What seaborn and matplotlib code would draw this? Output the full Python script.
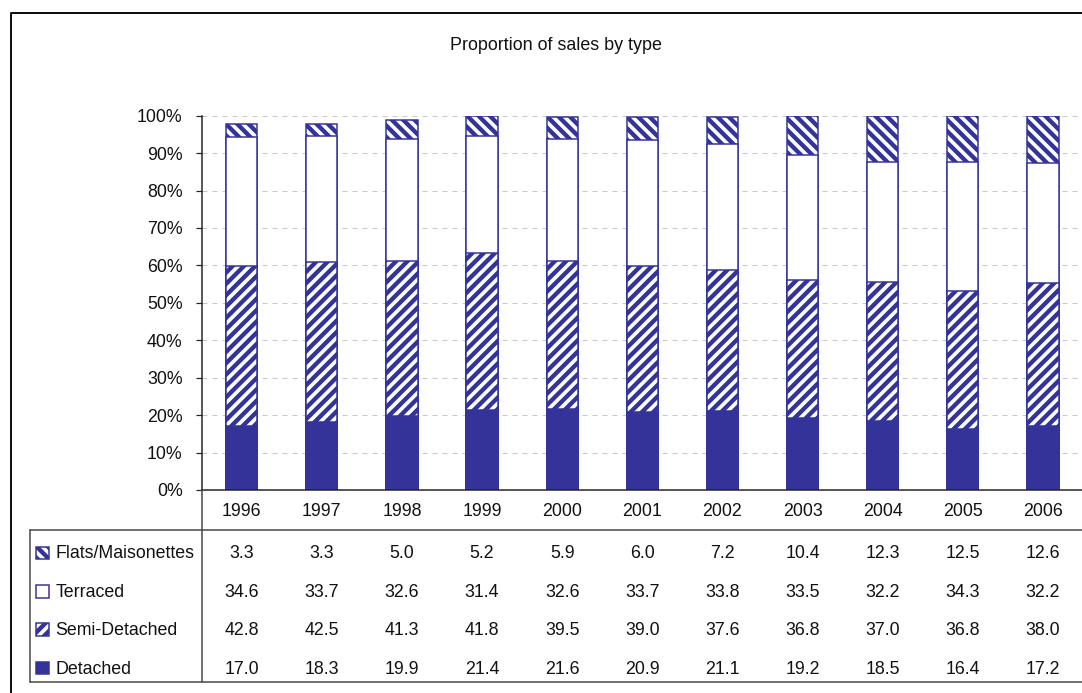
import matplotlib
matplotlib.use("Agg")
import matplotlib.pyplot as plt
import matplotlib.transforms as mtransforms
from matplotlib.lines import Line2D
from matplotlib.patches import Rectangle
from matplotlib.ticker import FuncFormatter, MultipleLocator
import numpy as np
import pandas as pd
import seaborn as sns

# ---- data (percent of sales by property type) ----
years = ["1996", "1997", "1998", "1999", "2000", "2001", "2002", "2003", "2004", "2005", "2006"]
flats = [3.3, 3.3, 5.0, 5.2, 5.9, 6.0, 7.2, 10.4, 12.3, 12.5, 12.6]
terraced = [34.6, 33.7, 32.6, 31.4, 32.6, 33.7, 33.8, 33.5, 32.2, 34.3, 32.2]
semi_detached = [42.8, 42.5, 41.3, 41.8, 39.5, 39.0, 37.6, 36.8, 37.0, 36.8, 38.0]
detached = [17.0, 18.3, 19.9, 21.4, 21.6, 20.9, 21.1, 19.2, 18.5, 16.4, 17.2]
row_labels = ["Flats/Maisonettes", "Terraced", "Semi-Detached", "Detached"]
title = "Proportion of sales by type"

# ---- style ----
sns.set_theme(style="white")
plt.rcParams["font.family"] = ["Liberation Sans", "DejaVu Sans"]
plt.rcParams["hatch.linewidth"] = 2.3

BLUE = "#333399"
HATCH_UP = "////"
HATCH_DOWN = "\\\\\\\\"
W, H, DPI = 1082, 693, 136
PT = 72.0 / DPI  # points per pixel

fig = plt.figure(figsize=(W / DPI, H / DPI), dpi=DPI, facecolor="white")


def fx(x):
    return x / W


def fy(y):
    return 1 - y / H


ax_left, ax_right, ax_top, ax_bottom = 201.6, 1083.0, 115.7, 490.0
ax = fig.add_axes([fx(ax_left), fy(ax_bottom), (ax_right - ax_left) / W, (ax_bottom - ax_top) / H])
ax.set_facecolor("white")

df = pd.DataFrame({
    "year": years,
    "detached": detached,
    "semi": semi_detached,
    "terraced": terraced,
    "flats": flats,
})
df["cum_semi"] = df["detached"] + df["semi"]
df["cum_terr"] = df["cum_semi"] + df["terraced"]
df["cum_flats"] = df["cum_terr"] + df["flats"]

bar_w = 0.39
edge_lw = 1.5 * PT
layers = [
    ("cum_flats", "white", HATCH_DOWN),
    ("cum_terr", "white", None),
    ("cum_semi", "white", HATCH_UP),
    ("detached", BLUE, None),
]
for col, face, hatch in layers:
    sns.barplot(data=df, x="year", y=col, color=face, saturation=1, width=bar_w,
                errorbar=None, edgecolor=BLUE, linewidth=edge_lw, hatch=hatch, ax=ax)

ax.set_xlim(-0.5, len(years) - 0.5)
ax.set_ylim(0, 100)
ax.yaxis.set_major_locator(MultipleLocator(10))
ax.yaxis.set_major_formatter(FuncFormatter(lambda v, p: f"{int(round(v))}%"))
ax.set_xlabel("")
ax.set_ylabel("")
ax.set_axisbelow(True)
ax.yaxis.grid(True, color="#c8c8c8", linestyle=(0, (5, 5)), linewidth=1.0 * PT)
ax.xaxis.grid(False)

for side in ("top", "right"):
    ax.spines[side].set_visible(False)
for side in ("left", "bottom"):
    ax.spines[side].set_color("#222222")
    ax.spines[side].set_linewidth(1.5 * PT)

fs = 17.8 * PT
ax.tick_params(axis="y", length=6 * PT, width=1.2 * PT, color="#222222", pad=13 * PT,
               labelsize=fs, labelcolor="#111111", left=True, direction="out")
ax.tick_params(axis="x", length=0, pad=13 * PT, labelsize=fs, labelcolor="#111111")

# ---- title ----
fig.text(fx(556), fy(46), title, ha="center", va="center", fontsize=17.9 * PT, color="#111111")

# ---- data table under the axis ----
tbl_left, tbl_top, tbl_bottom = 29.5, 529.5, 681.5
line_kw = dict(color="#444444", linewidth=1.5 * PT, transform=fig.transFigure)
fig.add_artist(Line2D([fx(tbl_left), 1.0], [fy(tbl_top), fy(tbl_top)], **line_kw))
fig.add_artist(Line2D([fx(tbl_left), 1.0], [fy(tbl_bottom), fy(tbl_bottom)], **line_kw))
fig.add_artist(Line2D([fx(tbl_left), fx(tbl_left)], [fy(tbl_top), fy(tbl_bottom)], **line_kw))
fig.add_artist(Line2D([fx(ax_left), fx(ax_left)], [fy(ax_bottom), fy(tbl_bottom)], **line_kw))

# outer chart frame
frame_kw = dict(color="#111111", linewidth=2.0 * PT, transform=fig.transFigure)
fig.add_artist(Line2D([fx(10.5), fx(10.5), 1.0], [0.0, fy(12.5), fy(12.5)], **frame_kw))

blend = mtransforms.blended_transform_factory(ax.transData, fig.transFigure)
row_series = [flats, terraced, semi_detached, detached]
row_baselines = [558.5, 597.0, 635.0, 673.5]
row_style = [("white", HATCH_DOWN), ("white", None), ("white", HATCH_UP), (BLUE, None)]

for label, values, base, (face, hatch) in zip(row_labels, row_series, row_baselines, row_style):
    for i, v in enumerate(values):
        fig.text(i, fy(base), f"{v:.1f}", transform=blend, ha="center", va="baseline",
                 fontsize=fs, color="#111111")
    fig.text(fx(55.5), fy(base), label, ha="left", va="baseline", fontsize=fs, color="#111111")
    sq = 12.5
    fig.patches.append(Rectangle((fx(36), fy(base + 0.5)), sq / W, sq / H,
                                 transform=fig.transFigure, facecolor=face, edgecolor=BLUE,
                                 hatch=hatch, linewidth=1.5 * PT, figure=fig))

fig.savefig("out.png", dpi=DPI, facecolor="white")
